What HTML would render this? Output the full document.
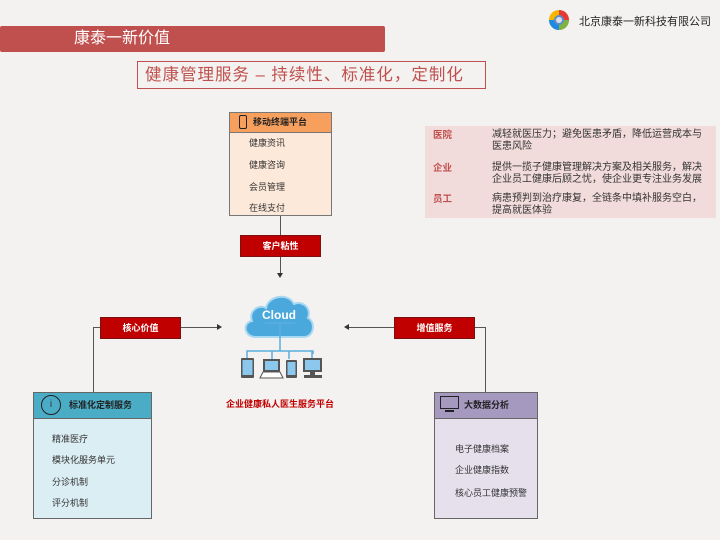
<!DOCTYPE html>
<html><head><meta charset="utf-8"><style>
*{margin:0;padding:0;box-sizing:border-box}
body{width:720px;height:540px;position:relative;background:#f3f2f0;font-family:"Liberation Sans","Noto Sans CJK SC",sans-serif;overflow:hidden;color:#333}
.a{position:absolute}
.tag{position:absolute;background:#c00000;color:#fff;font-size:9px;font-weight:bold;text-align:center;line-height:20px;border:1px solid #7a1010}
.ln{position:absolute;background:#555}
.it{position:absolute;font-size:9px;color:#333}
</style></head><body>
<div class="a" style="left:0;top:26px;width:385px;height:26px;background:#c0504d;border-radius:2px;color:#fff;font-size:16px;line-height:26px;padding-left:74px">康泰一新价值</div>
<svg class="a" style="left:548px;top:9px" width="22" height="22" viewBox="0 0 22 22"><g transform="translate(11,11)"><circle r="10" fill="#f7b500"/><path d="M0-10A10 10 0 0 1 10 0L0 0Z" fill="#e53935"/><path d="M10 0A10 10 0 0 1 0 10L0 0Z" fill="#7cb342"/><path d="M0 10A10 10 0 0 1-10 0L0 0Z" fill="#1e88e5"/><circle r="5" fill="#5a8fc8"/><circle r="3" fill="#dde"/></g></svg>
<div class="a" style="left:579px;top:13px;font-size:11px;color:#222">北京康泰一新科技有限公司</div>
<div class="a" style="left:137px;top:61px;width:349px;height:28px;border:1px solid #c0504d;color:#c0504d;font-size:16.5px;letter-spacing:1px;line-height:26px;padding-left:7px;white-space:nowrap">健康管理服务 – 持续性、标准化，定制化</div>

<div class="a" style="left:229px;top:112px;width:103px;height:104px;border:1px solid #777;background:#fde9d9"></div>
<div class="a" style="left:229px;top:112px;width:103px;height:21px;border:1px solid #777;background:#f79f5c;font-size:9px;font-weight:bold;line-height:19px;padding-left:23px;color:#222">移动终端平台</div>
<div class="a" style="left:239px;top:115px;width:8px;height:14px;border:1.5px solid #222;border-radius:2px"></div>
<div class="it" style="left:249px;top:136px">健康资讯</div>
<div class="it" style="left:249px;top:158px">健康咨询</div>
<div class="it" style="left:249px;top:180px">会员管理</div>
<div class="it" style="left:249px;top:201px">在线支付</div>

<div class="a" style="left:425px;top:126px;width:291px;height:92px;background:#f2dcdb"></div>
<div class="a" style="left:433px;top:129px;font-size:9.5px;font-weight:bold;color:#c0504d;line-height:13px">医院</div>
<div class="a" style="left:433px;top:162px;font-size:9.5px;font-weight:bold;color:#c0504d;line-height:13px">企业</div>
<div class="a" style="left:433px;top:193px;font-size:9.5px;font-weight:bold;color:#c0504d;line-height:13px">员工</div>
<div class="a" style="left:492px;top:129px;width:212px;font-size:10px;line-height:12px;color:#333">减轻就医压力；避免医患矛盾，降低运营成本与医患风险</div>
<div class="a" style="left:492px;top:162px;width:212px;font-size:10px;line-height:12px;color:#333">提供一揽子健康管理解决方案及相关服务，解决企业员工健康后顾之忧，使企业更专注业务发展</div>
<div class="a" style="left:492px;top:193px;width:212px;font-size:10px;line-height:12px;color:#333">病患预判到治疗康复，全链条中填补服务空白，提高就医体验</div>

<div class="ln" style="left:280px;top:216px;width:1px;height:59px"></div>
<div class="a" style="left:277px;top:273px;border-left:3px solid transparent;border-right:3px solid transparent;border-top:5px solid #333"></div>
<div class="tag" style="left:240px;top:235px;width:81px">客户粘性</div>

<div class="ln" style="left:93px;top:327px;width:126px;height:1px"></div>
<div class="a" style="left:217px;top:324px;border-top:3px solid transparent;border-bottom:3px solid transparent;border-left:5px solid #333"></div>
<div class="ln" style="left:93px;top:327px;width:1px;height:66px"></div>
<div class="tag" style="left:100px;top:317px;width:81px">核心价值</div>

<div class="ln" style="left:346px;top:327px;width:140px;height:1px"></div>
<div class="a" style="left:344px;top:324px;border-top:3px solid transparent;border-bottom:3px solid transparent;border-right:5px solid #333"></div>
<div class="ln" style="left:485px;top:327px;width:1px;height:66px"></div>
<div class="tag" style="left:394px;top:317px;width:81px">增值服务</div>

<svg class="a" style="left:232px;top:288px" width="96" height="96" viewBox="0 0 96 96">
<path d="M24 49C12 49 10 35 20 33C16 22 28 16 34 20C36 8 56 4 62 16C70 12 80 20 76 30C84 34 82 49 72 49Z" fill="#4aa8dc" stroke="#a8d8f2" stroke-width="2"/>
<text x="47" y="31" font-size="12" font-weight="bold" fill="#fff" text-anchor="middle" font-family="Liberation Sans">Cloud</text>
<path d="M33 35h30M48 35v28M15 66v-3h66v3M15 63v8M40 63v8M57 63v8M80 63v8" stroke="#5aaede" stroke-width="1.5" fill="none"/>
<rect x="9" y="70" width="13" height="20" rx="1" fill="#555"/><rect x="10.5" y="72" width="10" height="15" fill="#8cc8ee"/>
<rect x="31" y="71" width="17" height="13" fill="#555"/><rect x="33" y="73" width="13" height="9" fill="#8cc8ee"/><path d="M28 90l3-6h17l3 6z" fill="#fff" stroke="#555"/>
<rect x="54" y="72" width="11" height="18" rx="1" fill="#555"/><rect x="55.5" y="74" width="8" height="13" fill="#8cc8ee"/>
<rect x="71" y="70" width="19" height="14" fill="#555"/><rect x="73" y="72" width="15" height="10" fill="#8cc8ee"/><rect x="78" y="84" width="5" height="3" fill="#555"/><rect x="72" y="87" width="18" height="3" fill="#555"/>
</svg>
<div class="a" style="left:226px;top:397px;font-size:9px;font-weight:bold;color:#c00000">企业健康私人医生服务平台</div>

<div class="a" style="left:33px;top:392px;width:119px;height:127px;border:1px solid #666;background:#dbeef4"></div>
<div class="a" style="left:33px;top:392px;width:119px;height:27px;border:1px solid #666;background:#4bacc6;font-size:9px;font-weight:bold;line-height:25px;padding-left:35px;color:#222">标准化定制服务</div>
<div class="a" style="left:41px;top:395px;width:20px;height:20px;border:1.2px solid #222;border-radius:50%;font-size:10px;text-align:center;line-height:18px">i</div>
<div class="it" style="left:52px;top:432px">精准医疗</div>
<div class="it" style="left:52px;top:453px">模块化服务单元</div>
<div class="it" style="left:52px;top:475px">分诊机制</div>
<div class="it" style="left:52px;top:496px">评分机制</div>

<div class="a" style="left:434px;top:392px;width:104px;height:127px;border:1px solid #666;background:#e5e0ec"></div>
<div class="a" style="left:434px;top:392px;width:104px;height:27px;border:1px solid #666;background:#a599c0;font-size:9px;font-weight:bold;line-height:25px;padding-left:29px;color:#222">大数据分析</div>
<div class="a" style="left:440px;top:396px;width:19px;height:13px;border:1.5px solid #222"></div>
<div class="a" style="left:445px;top:410px;width:9px;height:2px;background:#222"></div>
<div class="it" style="left:455px;top:442px">电子健康档案</div>
<div class="it" style="left:455px;top:463px">企业健康指数</div>
<div class="it" style="left:455px;top:486px">核心员工健康预警</div>
</body></html>
